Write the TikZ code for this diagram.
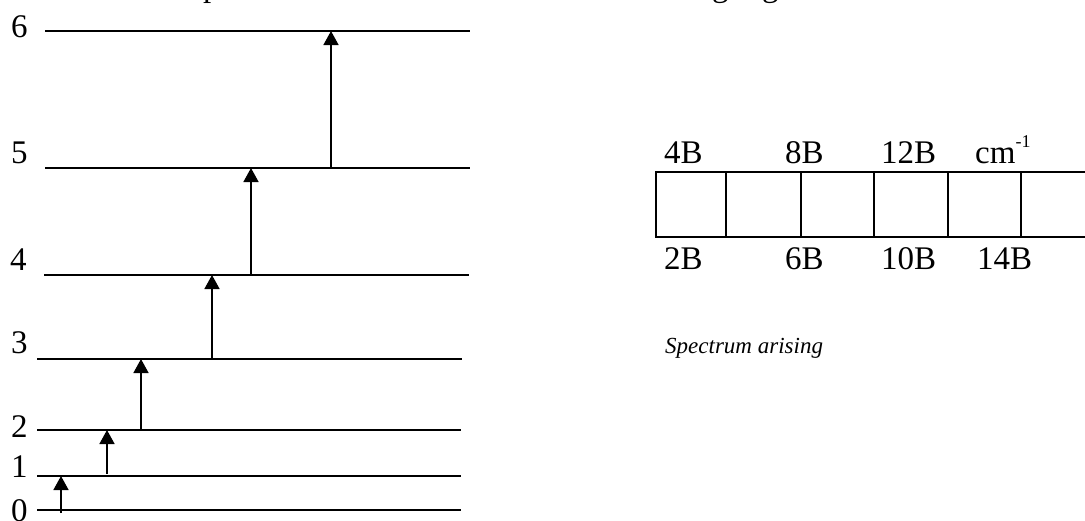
\documentclass[tikz,border=0pt]{standalone}
\usepackage{fontspec}
\setmainfont{Liberation Serif}
\usetikzlibrary{arrows.meta}
\begin{document}
\begin{tikzpicture}[x=1pt,y=-1pt,
  level/.style={line width=1.6pt},
  jump/.style={line width=1.5pt,-{Triangle[length=14pt,width=15pt]}},
  cell/.style={line width=1.3pt},
  txt/.style={anchor=base west,inner sep=0pt,font=\fontsize{33}{40}\selectfont},
  note/.style={anchor=base west,inner sep=0pt,font=\fontsize{23}{28}\selectfont\itshape}]
\useasboundingbox (0,0) rectangle (1085,520);
\clip (0,0) rectangle (1085,520);

% heading line above, mostly outside the frame
\node[txt] (hp)  at (203,-3.5) {p};
\node[txt] (hg1) at (712,-3.5) {g};
\node[txt] (hg2) at (762,-3.5) {g};

% rotational energy levels J = 0 ... 6
\foreach \n/\xa/\xb/\y in {0/37/461/510, 1/37/461/476, 2/37/461/430,
    3/37/462/359, 4/44/469/275, 5/45/470/168, 6/45/470/31} {
  \coordinate (lv\n w) at (\xa,\y);
  \coordinate (lv\n e) at (\xb,\y);
  \draw[level] (lv\n w) -- (lv\n e);
}

% level numbers
\node[txt] (j6) at (11,37)  {6};
\node[txt] (j5) at (11,163) {5};
\node[txt] (j4) at (10,270) {4};
\node[txt] (j3) at (11,353) {3};
\node[txt] (j2) at (11,437) {2};
\node[txt] (j1) at (11,477) {1};
\node[txt] (j0) at (11,521) {0};

% absorption transitions
\coordinate (b01) at (61,513);
\coordinate (b12) at (107,474);
\coordinate (b23) at (141,430);
\coordinate (b34) at (212,358);
\coordinate (b45) at (251,275);
\coordinate (b56) at (331,168);
\draw[jump] (b01) -- (b01 |- lv1w);
\draw[jump] (b12) -- (b12 |- lv2w);
\draw[jump] (b23) -- (b23 |- lv3w);
\draw[jump] (b34) -- (b34 |- lv4w);
\draw[jump] (b45) -- (b45 |- lv5w);
\draw[jump] (b56) -- (b56 |- lv6w);

% spectrum strip
\coordinate (s1) at (656,172);
\coordinate (s2) at (656,237);
\draw[cell] (1092,172) -- (s1) -- (s2) -- (1092,237);
\foreach \x in {726,801,874,948,1021}
  \draw[cell] (\x,172) -- (\x,237);

% line positions
\node[txt] (t4)  at (664,163) {4B};
\node[txt] (t8)  at (785,163) {8B};
\node[txt] (t12) at (881,163) {12B};
\node[txt] (tcm) at (975,163) {cm\raisebox{16pt}{\fontsize{18}{20}\selectfont -1}};
\node[txt] (t2)  at (664,269) {2B};
\node[txt] (t6)  at (785,269) {6B};
\node[txt] (t10) at (881,269) {10B};
\node[txt] (t14) at (977,269) {14B};

\node[note] (cap) at (665,353) {Spectrum arising};
\end{tikzpicture}
\end{document}
